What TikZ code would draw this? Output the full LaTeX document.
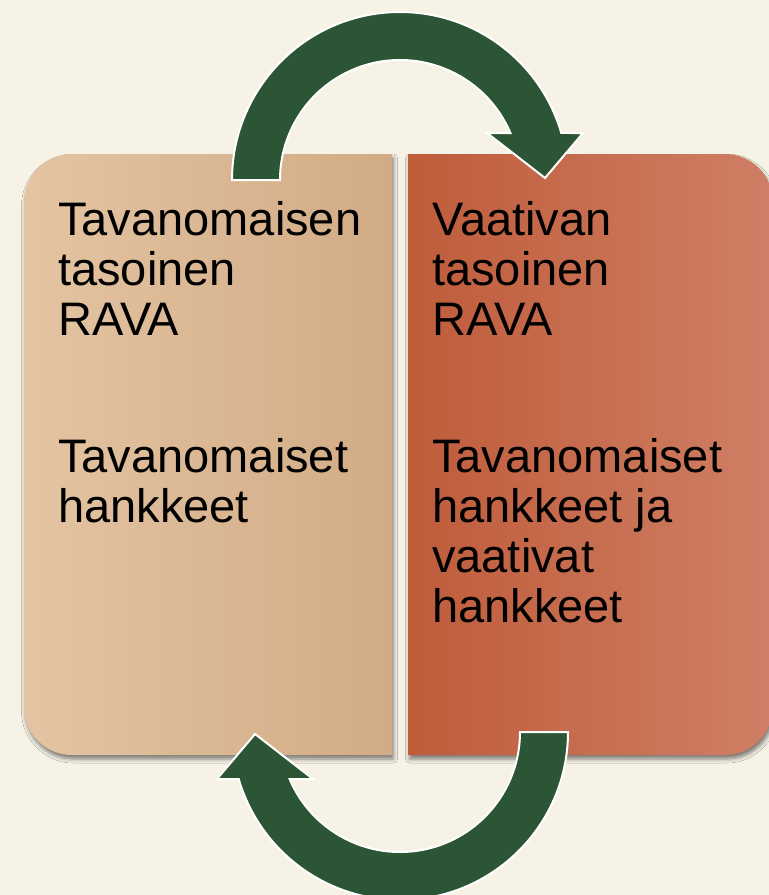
\documentclass[tikz,border=0pt]{standalone}
\usepackage{fontspec}
\setmainfont{Liberation Sans}
\usetikzlibrary{shadows.blur}
\definecolor{bgc}{HTML}{F6F3E6}
\definecolor{tanL}{HTML}{E4C4A2}
\definecolor{tanR}{HTML}{D1AB85}
\definecolor{rustL}{HTML}{BF5C3A}
\definecolor{rustR}{HTML}{CF7F66}
\definecolor{arrowgreen}{HTML}{2C5535}
\tikzset{
  boxshadow/.style={blur shadow={shadow xshift=1.5pt, shadow yshift=-4pt, shadow blur radius=4pt, shadow opacity=50}},
  blockarrow/.style={fill=arrowgreen, draw=white, line width=2pt, line join=miter},
  label/.style={inner sep=0pt, anchor=base west, align=left, text=black,
    font=\fontsize{47}{50}\selectfont}
}
\begin{document}
\begin{tikzpicture}[x=1pt,y=1pt]
\useasboundingbox (0,0) rectangle (769,-895);
\clip (0,0) rectangle (769,-895);
\fill[bgc] (0,0) rectangle (769,-895);
% left box
\path[boxshadow, left color=tanL, right color=tanR]
  (392,-154) -- (72,-154) arc[start angle=90,end angle=180,radius=48]
  -- (24,-707) arc[start angle=180,end angle=270,radius=48]
  -- (392,-755) -- cycle;
% right box
\path[boxshadow, left color=rustL, right color=rustR]
  (408,-154) -- (725,-154) arc[start angle=90,end angle=0,radius=48]
  -- (773,-707) arc[start angle=0,end angle=-90,radius=48]
  -- (408,-755) -- cycle;
% texts (base anchor = baseline of last line)
\node[label] (l1) at (58,-335) {Tavanomaisen\\tasoinen\\RAVA};
\node[label] (l2) at (58,-522) {Tavanomaiset\\hankkeet};
\node[label] (r1) at (432,-335) {Vaativan\\tasoinen\\RAVA};
\node[label] (r2) at (432,-622) {Tavanomaiset\\hankkeet ja\\vaativat\\hankkeet};
% top arrow
\path[blockarrow]
  (232,-180) arc[start angle=180,end angle=16.25,radius=168]
  -- (583,-133) -- (545,-178) -- (487,-133) -- (510.4,-133)
  arc[start angle=23.06,end angle=180,radius=120] -- cycle;
% bottom arrow
\begin{scope}[rotate around={180:(400,-456)}]
\path[blockarrow]
  (232,-180) arc[start angle=180,end angle=16.25,radius=168]
  -- (583,-133) -- (545,-178) -- (487,-133) -- (510.4,-133)
  arc[start angle=23.06,end angle=180,radius=120] -- cycle;
\end{scope}
\end{tikzpicture}
\end{document}
